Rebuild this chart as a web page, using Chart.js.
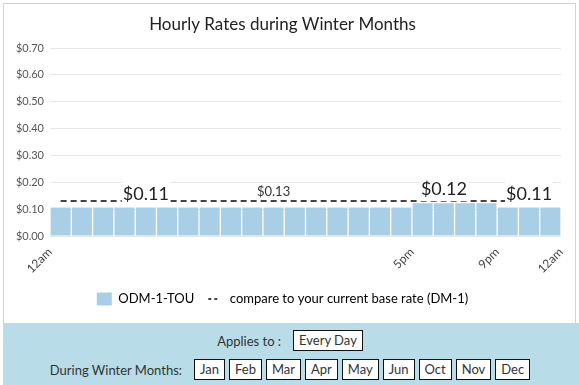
<!DOCTYPE html>
<html>
<head>
<meta charset="utf-8">
<script src="https://cdn.jsdelivr.net/npm/chart.js@4.4.1/dist/chart.umd.min.js"></script>
<style>
  html, body { margin: 0; padding: 0; background: #fff; }
  body { width: 579px; height: 385px; overflow: hidden; position: relative; font-family: Lato, sans-serif; color: #333; }
  .card { position: absolute; left: 3px; top: 3px; width: 571px; height: 320px; border: 1px solid #b8dde8; border-bottom: none; }
  .card .wrap { position: relative; width: 571px; height: 319px; }
  .panel { position: absolute; left: 3px; top: 323px; width: 576px; height: 62px; background: #b8dde8; font-size: 13px; color: #333; }
  .row { display: flex; justify-content: center; align-items: center; }
  .row1 { margin-top: 7px; }
  .row2 { margin-top: 8px; }
  .lbl { margin-right: 10px; }
  .tag { background: #fff; border: 1px solid #111; height: 19px; line-height: 19px; padding: 0 5px; margin: 0 2px; }
</style>
</head>
<body>
<div class="card"><div class="wrap"><canvas id="rates"></canvas></div></div>
<div class="panel">
  <div class="row row1"><span class="lbl">Applies to :</span><span class="tag" id="applies"></span></div>
  <div class="row row2"><span class="lbl">During Winter Months:</span><span id="months" class="row"></span></div>
</div>
<script>
// hourly categories, one bar per hour
var hours = ['12am','1am','2am','3am','4am','5am','6am','7am','8am','9am','10am','11am',
             '12pm','1pm','2pm','3pm','4pm','5pm','6pm','7pm','8pm','9pm','10pm','11pm'];
// ODM-1-TOU rate per hour
var rates = [0.106,0.106,0.106,0.106,0.106,0.106,0.106,0.106,0.106,0.106,0.106,0.106,
             0.106,0.106,0.106,0.106,0.106,0.122,0.122,0.122,0.122,0.106,0.106,0.106];
// current base rate (DM-1)
var baseRate = [0.13,0.13,0.13,0.13,0.13,0.13,0.13,0.13,0.13,0.13,0.13,0.13,
                0.13,0.13,0.13,0.13,0.13,0.13,0.13,0.13,0.13,0.13,0.13,0.13];
var xTickPos = [0, 17, 21, 24];
var xTickLabels = ['12am', '5pm', '9pm', '12am'];
var barLabelIdx = [4, 18, 22];
var lineLabelIdx = [10];
var legendNames = ['ODM-1-TOU', 'compare to your current base rate (DM-1)'];
var appliesTo = 'Every Day';
var months = ['Jan','Feb','Mar','Apr','May','Jun','Oct','Nov','Dec'];

var barColor = '#a9cfe7';
var money = function (v) { return '$' + Number(v).toFixed(2); };

document.getElementById('applies').textContent = appliesTo;
document.getElementById('months').innerHTML = months.map(function (m) {
  return '<span class="tag">' + m + '</span>';
}).join('');

// value labels, big ones sit on a white box over the bars
var rateLabels = {
  id: 'rateLabels',
  afterDatasetsDraw: function (chart) {
    var ctx = chart.ctx;
    var bars = chart.getDatasetMeta(0).data;
    var pts = chart.getDatasetMeta(1).data;
    ctx.save();
    ctx.textAlign = 'center';
    ctx.textBaseline = 'alphabetic';
    ctx.font = '18px Lato, sans-serif';
    barLabelIdx.forEach(function (i) {
      var txt = money(rates[i]);
      var w = ctx.measureText(txt).width;
      var x = bars[i].x, base = bars[i].y - 8;
      ctx.fillStyle = '#fff';
      ctx.fillRect(x - w / 2 - 1, base - 19, w + 2, 25);
      ctx.fillStyle = '#222';
      ctx.fillText(txt, x, base);
    });
    ctx.font = '13px Lato, sans-serif';
    lineLabelIdx.forEach(function (i) {
      ctx.fillStyle = '#333';
      ctx.fillText(money(baseRate[i]), pts[i].x, pts[i].y - 5);
    });
    ctx.restore();
  }
};

new Chart(document.getElementById('rates').getContext('2d'), {
  type: 'bar',
  data: {
    labels: hours,
    datasets: [{
      label: legendNames[0],
      data: rates,
      backgroundColor: barColor,
      borderWidth: 0,
      barPercentage: 0.94,
      categoryPercentage: 1,
      order: 2
    }, {
      type: 'line',
      label: legendNames[1],
      data: baseRate,
      borderColor: '#444',
      borderWidth: 2,
      borderDash: [6, 4],
      pointRadius: 0,
      fill: false,
      order: 1
    }]
  },
  options: {
    responsive: true,
    maintainAspectRatio: false,
    animation: false,
    layout: { padding: { left: 0, right: 14, top: 0, bottom: 7.5 } },
    plugins: {
      tooltip: { enabled: false },
      title: {
        display: true,
        text: 'Hourly Rates during Winter Months',
        color: '#222',
        font: { family: 'Lato, sans-serif', size: 17, weight: 'normal' },
        padding: { top: 10, bottom: 13.6 }
      },
      legend: {
        position: 'bottom',
        labels: {
          usePointStyle: true,
          pointStyleWidth: 15,
          boxHeight: 15,
          padding: 14,
          color: '#333',
          font: { family: 'Lato, sans-serif', size: 13 },
          generateLabels: function () {
            return [
              { text: legendNames[0], fillStyle: barColor, strokeStyle: barColor, lineWidth: 0, pointStyle: 'rect', hidden: false, datasetIndex: 0 },
              { text: legendNames[1], fillStyle: 'rgba(0,0,0,0)', strokeStyle: '#444', lineWidth: 2, lineDash: [3, 3, 3, 40], pointStyle: 'line', hidden: false, datasetIndex: 1 }
            ];
          }
        }
      }
    },
    scales: {
      x: { display: false, grid: { display: false } },
      xt: {
        type: 'linear',
        position: 'bottom',
        min: 0,
        max: 24,
        offset: false,
        grid: { display: false },
        border: { display: false },
        afterBuildTicks: function (scale) {
          scale.ticks = xTickPos.map(function (v) { return { value: v }; });
        },
        afterFit: function (scale) { scale.height = 42.5; },
        ticks: {
          autoSkip: false,
          minRotation: 45,
          maxRotation: 45,
          padding: 1,
          color: '#444',
          font: { family: 'Lato, sans-serif', size: 12 },
          callback: function (v) { return xTickLabels[xTickPos.indexOf(v)]; }
        }
      },
      y: {
        min: 0,
        max: 0.7,
        afterFit: function (scale) { scale.width = 46; },
        grid: { color: '#e6e6e6', drawTicks: false },
        border: { display: false },
        ticks: {
          stepSize: 0.1,
          padding: 6,
          color: '#555',
          font: { family: 'Lato, sans-serif', size: 11 },
          callback: function (v) { return money(v); }
        }
      }
    }
  },
  plugins: [rateLabels]
});
</script>
</body>
</html>
